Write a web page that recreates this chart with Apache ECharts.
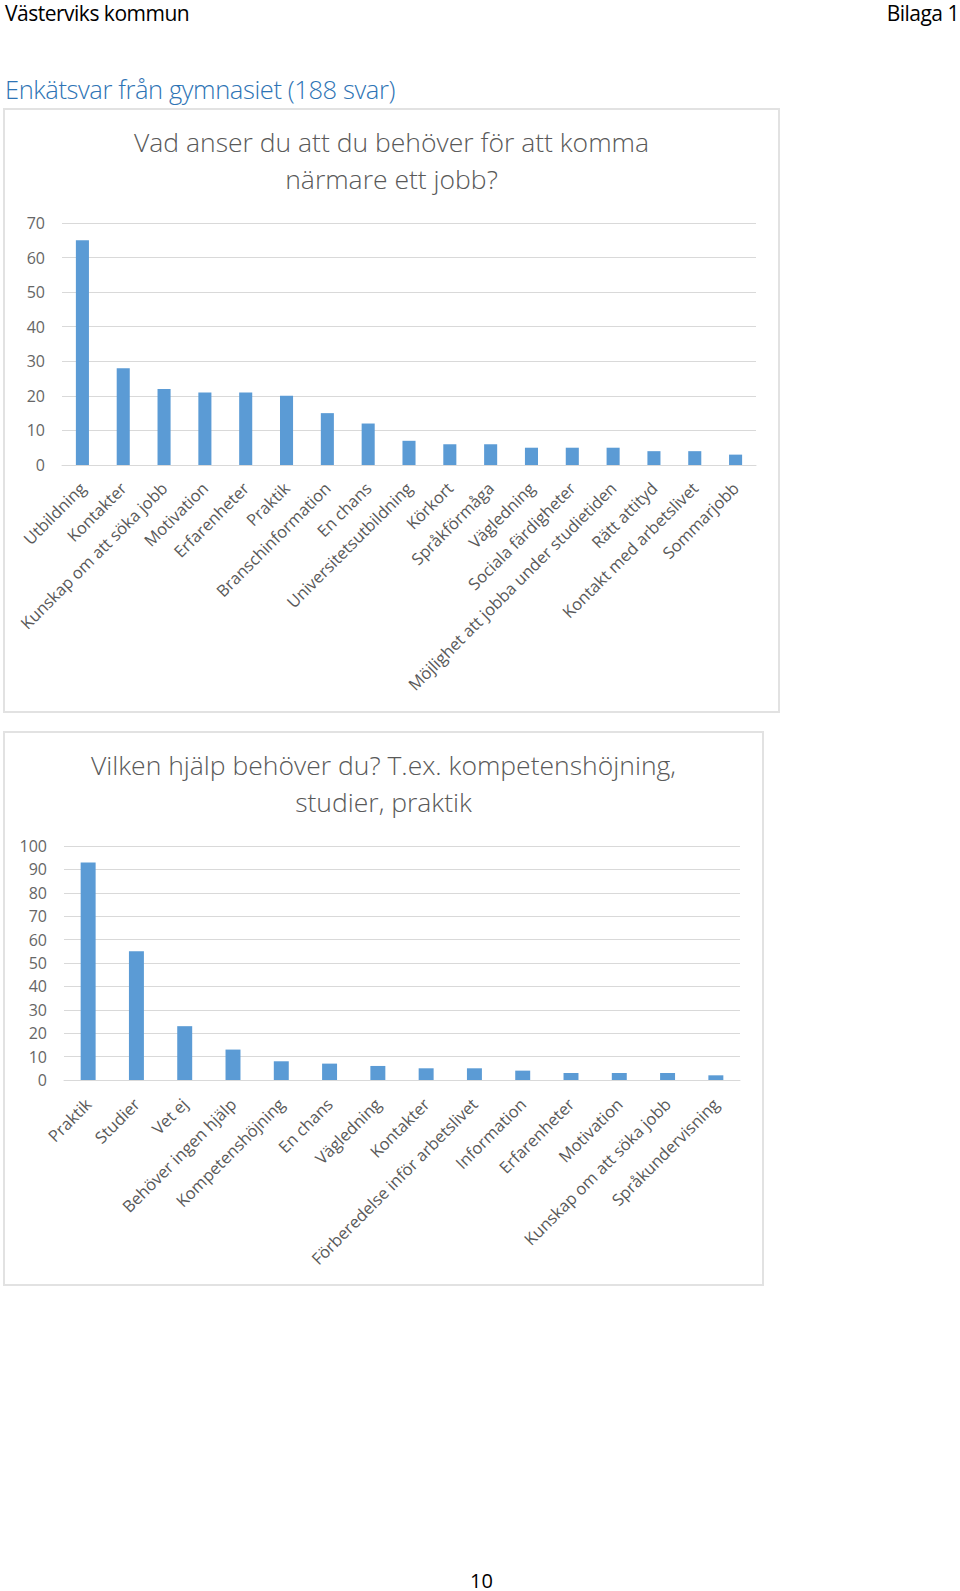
<!DOCTYPE html>
<html><head><meta charset="utf-8">
<script src="https://cdn.jsdelivr.net/npm/echarts@6/dist/echarts.min.js"></script>
<style>
html,body{margin:0;padding:0;background:#fff;width:960px;height:1591px;overflow:hidden;position:relative;font-family:"Open Sans","Noto Sans",sans-serif;}
.t{position:absolute;white-space:nowrap;}
.box{position:absolute;border:2px solid #e2e2e2;box-sizing:border-box;}
</style></head>
<body>
<div class="t" style="left:5px;top:-1px;font-size:21px;color:#000;font-family:'Open Sans';letter-spacing:-0.5px">Västerviks kommun</div>
<div class="t" style="right:1px;top:-1px;font-size:21px;color:#000;font-family:'Open Sans';letter-spacing:-0.5px">Bilaga 1</div>
<div class="t" style="left:5px;top:72px;font-size:25.5px;color:#2E74B5;font-family:'Open Sans';font-weight:300;letter-spacing:-0.4px">Enkätsvar från gymnasiet (188 svar)</div>
<div class="box" id="c1" style="left:3px;top:108px;width:777px;height:605px"></div>
<div class="box" id="c2" style="left:3px;top:731px;width:761px;height:555px"></div>
<div class="t" style="left:470px;top:1567px;font-size:20px;color:#000;font-family:'Open Sans'">10</div>
<script>
const title1 = "Vad anser du att du behöver för att komma\nnärmare ett jobb?";
const cats1 = ["Utbildning","Kontakter","Kunskap om att söka jobb","Motivation","Erfarenheter","Praktik","Branschinformation","En chans","Universitetsutbildning","Körkort","Språkförmåga","Vägledning","Sociala färdigheter","Möjlighet att jobba under studietiden","Rätt attityd","Kontakt med arbetslivet","Sommarjobb"];
const vals1 = [65,28,22,21,21,20,15,12,7,6,6,5,5,5,4,4,3];
const yMax1 = 70, yStep1 = 10;

const title2 = "Vilken hjälp behöver du? T.ex. kompetenshöjning,\nstudier, praktik";
const cats2 = ["Praktik","Studier","Vet ej","Behöver ingen hjälp","Kompetenshöjning","En chans","Vägledning","Kontakter","Förberedelse inför arbetslivet","Information","Erfarenheter","Motivation","Kunskap om att söka jobb","Språkundervisning"];
const vals2 = [93,55,23,13,8,7,6,5,5,4,3,3,3,2];
const yMax2 = 100, yStep2 = 10;

function makeOpt(title, cats, vals, yMax, yStep, grid, barW, lblMargin){
  return {
    animation:false,
    title:{text:title,left:'center',top:8,textStyle:{fontFamily:'Open Sans',fontWeight:300,fontSize:26.5,lineHeight:37,color:'#595959'}},
    grid:grid,
    xAxis:{type:'category',data:cats,
      axisLine:{lineStyle:{color:'#d9d9d9',width:1}},axisTick:{show:false},
      axisLabel:{interval:0,rotate:45,color:'#595959',fontSize:16.5,fontFamily:'Open Sans',margin:lblMargin}},
    yAxis:{type:'value',min:0,max:yMax,interval:yStep,
      axisLine:{show:false},axisTick:{show:false},
      splitLine:{lineStyle:{color:'#d9d9d9',width:1}},
      axisLabel:{color:'#666666',fontSize:16,fontFamily:'Open Sans',margin:17}},
    series:[{type:'bar',data:vals,barWidth:barW,itemStyle:{color:'#5B9BD5'}}]
  };
}
const ch1 = echarts.init(document.getElementById('c1'),null,{renderer:'svg'});
ch1.setOption(makeOpt(title1,cats1,vals1,yMax1,yStep1,{left:57,right:22,top:113,bottom:246},'32%',20));
const ch2 = echarts.init(document.getElementById('c2'),null,{renderer:'svg'});
ch2.setOption(makeOpt(title2,cats2,vals2,yMax2,yStep2,{left:59,right:22,top:113,bottom:204},'31%',21));
</script>
</body></html>
